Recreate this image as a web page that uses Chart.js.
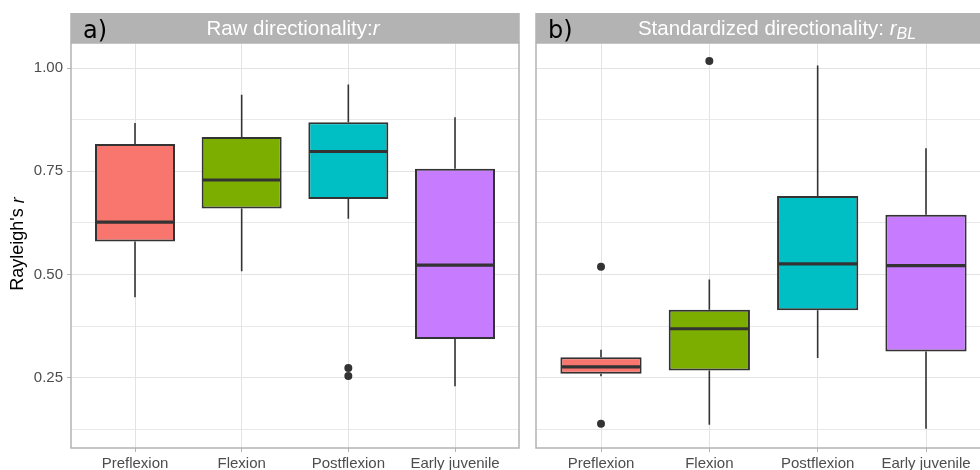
<!DOCTYPE html>
<html>
<head>
<meta charset="utf-8">
<script src="https://cdn.jsdelivr.net/npm/chart.js@4.4.1/dist/chart.umd.min.js"></script>
<style>
  html, body { margin: 0; padding: 0; background: #fff; overflow: hidden; width: 980px; height: 470px; }
  .panel { position: absolute; top: 0; }
</style>
</head>
<body>
<div class="panel" style="left:0"><canvas id="rawChart" width="527" height="470"></canvas></div>
<div class="panel" style="left:520px"><canvas id="blChart" width="476" height="470"></canvas></div>
<script>
// categories and colours (ggplot default hue palette)
const categories = ['Preflexion', 'Flexion', 'Postflexion', 'Early juvenile'];
const boxColors = ['#F8766D', '#7CAE00', '#00BFC4', '#C77CFF'];

// a) raw directionality r
const rawLower  = [0.445, 0.508, 0.635, 0.230];
const rawQ1     = [0.580, 0.660, 0.683, 0.344];
const rawMedian = [0.627, 0.729, 0.798, 0.523];
const rawQ3     = [0.816, 0.833, 0.869, 0.756];
const rawUpper  = [0.867, 0.935, 0.960, 0.881];
const rawOutliers = [[], [], [0.274, 0.255], []];

// b) standardized directionality r_BL
const blLower  = [0.254, 0.137, 0.298, 0.127];
const blQ1     = [0.260, 0.268, 0.414, 0.314];
const blMedian = [0.277, 0.369, 0.526, 0.522];
const blQ3     = [0.300, 0.415, 0.690, 0.645];
const blUpper  = [0.318, 0.488, 1.006, 0.806];
const blOutliers = [[0.519, 0.139], [1.017], [], []];

// y axis
const yTicks = [0.25, 0.50, 0.75, 1.00];
const yMinorTicks = [0.125, 0.375, 0.625, 0.875];
const yMin = 0.0805, yMax = 1.0605;

const FONT = "'Liberation Sans', Arial, sans-serif";
const GREY70 = '#b3b3b3';
const LINE = '#333333';

// draws whiskers, medians, the facet strip, panel border and titles
const facetPlugin = {
  id: 'facet',
  afterDatasetsDraw(chart, args, opts) {
    const ctx = chart.ctx;
    const x = chart.scales.x, y = chart.scales.y;
    const half = x.getPixelForValue(1.375) - x.getPixelForValue(1);
    ctx.save();
    ctx.strokeStyle = LINE;
    opts.median.forEach((m, i) => {
      const cx = x.getPixelForValue(i + 1);
      ctx.lineWidth = 1.6;
      ctx.beginPath();
      ctx.moveTo(cx, y.getPixelForValue(opts.upper[i]));
      ctx.lineTo(cx, y.getPixelForValue(opts.q3[i]));
      ctx.moveTo(cx, y.getPixelForValue(opts.q1[i]));
      ctx.lineTo(cx, y.getPixelForValue(opts.lower[i]));
      ctx.stroke();
      ctx.lineWidth = 3.2;
      ctx.beginPath();
      ctx.moveTo(cx - half + 1, y.getPixelForValue(m));
      ctx.lineTo(cx + half - 1, y.getPixelForValue(m));
      ctx.stroke();
    });
    ctx.restore();
  },
  afterDraw(chart, args, opts) {
    const ctx = chart.ctx;
    const a = chart.chartArea;
    ctx.save();
    // panel border
    ctx.strokeStyle = GREY70;
    ctx.lineWidth = 1.5;
    ctx.strokeRect(a.left, a.top, a.right - a.left, a.bottom - a.top);
    // strip
    ctx.fillStyle = GREY70;
    ctx.fillRect(a.left - 0.75, 13, a.right - a.left + 1.5, a.top - 13);
    // tag
    ctx.fillStyle = '#000';
    ctx.font = "24px 'DejaVu Sans', sans-serif";
    ctx.textBaseline = 'alphabetic';
    ctx.textAlign = 'left';
    ctx.fillText(opts.tag, a.left + 12, 37.5);
    // strip text made of parts
    const parts = opts.title;
    const fontOf = p => (p.italic ? 'italic ' : '') + (p.sub ? '16px ' : '20.5px ') + FONT;
    let total = 0;
    parts.forEach(p => { ctx.font = fontOf(p); total += ctx.measureText(p.text).width; });
    let tx = opts.titleCenter - total / 2;
    ctx.fillStyle = '#ffffff';
    parts.forEach(p => {
      ctx.font = fontOf(p);
      ctx.fillText(p.text, tx, p.sub ? 38.5 : 34.5);
      tx += ctx.measureText(p.text).width;
    });
    // y axis title
    if (opts.yTitle) {
      ctx.translate(18.5, 244);
      ctx.rotate(-Math.PI / 2);
      ctx.fillStyle = '#000';
      ctx.textBaseline = 'middle';
      const t1 = "Rayleigh's ", t2 = 'r';
      ctx.font = '18px ' + FONT;
      const w1 = ctx.measureText(t1).width;
      ctx.font = 'italic 18px ' + FONT;
      const w2 = ctx.measureText(t2).width;
      let sx = -(w1 + w2) / 2;
      ctx.font = '18px ' + FONT;
      ctx.fillText(t1, sx, 0);
      ctx.font = 'italic 18px ' + FONT;
      ctx.fillText(t2, sx + w1, 0);
    }
    ctx.restore();
  }
};

function makePanel(canvasId, lower, q1, median, q3, upper, outliers, opts) {
  const outlierPoints = [];
  outliers.forEach((list, i) => list.forEach(v => outlierPoints.push({ x: i + 1, y: v })));
  return new Chart(document.getElementById(canvasId), {
    type: 'bar',
    data: {
      datasets: [
        {
          type: 'bar',
          data: categories.map((c, i) => ({ x: i + 1, y: [q1[i], q3[i]] })),
          backgroundColor: boxColors,
          borderColor: LINE,
          borderWidth: 2,
          borderSkipped: false,
          barPercentage: 0.75,
          categoryPercentage: 1,
          order: 2
        },
        {
          type: 'scatter',
          data: outlierPoints,
          pointRadius: 4,
          pointBackgroundColor: LINE,
          pointBorderWidth: 0,
          order: 1
        }
      ]
    },
    options: {
      responsive: false,
      animation: false,
      events: [],
      layout: { padding: { top: 43, right: opts.padRight, left: 0, bottom: 0 } },
      plugins: {
        legend: { display: false },
        tooltip: { enabled: false },
        facet: {
          lower, q1, median, q3, upper,
          tag: opts.tag,
          title: opts.title,
          titleCenter: opts.titleCenter,
          yTitle: opts.yTitle
        }
      },
      scales: {
        x: {
          type: 'linear',
          min: 0.4,
          max: 4.6,
          offset: false,
          afterBuildTicks: s => { s.ticks = categories.map((c, i) => ({ value: i + 1 })); },
          afterFit: s => { s.height = 22; },
          border: { display: false },
          grid: { color: '#e3e3e3', lineWidth: 1, offset: false, tickLength: 4, tickColor: GREY70 },
          ticks: {
            autoSkip: false, maxRotation: 0, padding: 3,
            color: '#4d4d4d', font: { family: FONT, size: 15 },
            callback: v => categories[v - 1]
          }
        },
        y: {
          min: yMin,
          max: yMax,
          afterBuildTicks: s => {
            s.ticks = [...yMinorTicks, ...yTicks].sort((p, q) => p - q).map(v => ({ value: v }));
          },
          afterFit: s => { s.width = opts.yWidth; },
          border: { display: false },
          grid: {
            color: '#e3e3e3',
            lineWidth: c => yTicks.includes(c.tick.value) ? 1 : 0.8,
            tickLength: opts.yTitle ? 4 : 0,
            drawTicks: !!opts.yTitle,
            tickColor: c => yTicks.includes(c.tick.value) ? GREY70 : 'rgba(0,0,0,0)'
          },
          ticks: {
            display: !!opts.yTitle,
            padding: 4,
            color: '#4d4d4d', font: { family: FONT, size: 15 },
            callback: v => yTicks.includes(v) ? v.toFixed(2) : ''
          }
        }
      }
    },
    plugins: [facetPlugin]
  });
}

makePanel('rawChart', rawLower, rawQ1, rawMedian, rawQ3, rawUpper, rawOutliers, {
  tag: 'a)',
  title: [{ text: 'Raw directionality:' }, { text: 'r', italic: true }],
  titleCenter: 293,
  yTitle: true,
  yWidth: 71,
  padRight: 8
});

makePanel('blChart', blLower, blQ1, blMedian, blQ3, blUpper, blOutliers, {
  tag: 'b)',
  title: [{ text: 'Standardized directionality: ' }, { text: 'r', italic: true }, { text: 'BL', italic: true, sub: true }],
  titleCenter: 257,
  yTitle: false,
  yWidth: 16,
  padRight: 5
});
</script>
</body>
</html>
